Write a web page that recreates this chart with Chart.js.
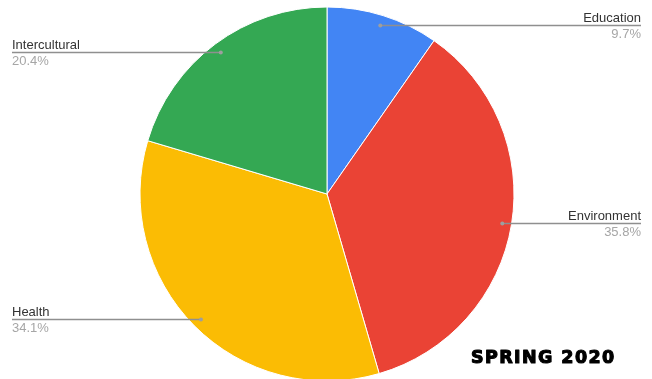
<!DOCTYPE html>
<html>
<head>
<meta charset="utf-8">
<script src="https://cdn.jsdelivr.net/npm/chart.js@4/dist/chart.umd.min.js"></script>
<style>
  html,body{margin:0;padding:0;background:#fff;overflow:hidden}
  #wrap{width:652px;height:379px}
</style>
</head>
<body>
<div id="wrap"><canvas id="pie" width="652" height="379"></canvas></div>
<script>
/* ── Data ── */
const categories=['Education','Environment','Health','Intercultural'];
const shares=[9.7,35.8,34.1,20.4];
const sliceColors=['#4285f4','#ea4335','#fbbc04','#34a853'];
const stamp='SPRING 2020';

/* ── Leader-line labels (Google-style) ── */
const leaderLabels={
  id:'leaderLabels',
  afterDatasetsDraw(chart){
    const ctx=chart.ctx;
    const meta=chart.getDatasetMeta(0);
    const leftX=12,rightX=641;
    meta.data.forEach((arc,i)=>{
      const p=arc.getProps(['x','y','startAngle','endAngle','outerRadius'],true);
      const mid=(p.startAngle+p.endAngle)/2;
      const r=p.outerRadius*0.95;
      const dx=p.x+Math.cos(mid)*r;
      const dy=Math.round(p.y+Math.sin(mid)*r)+0.5;
      const right=dx>p.x;
      ctx.save();
      ctx.strokeStyle='#8f8f8f';
      ctx.lineWidth=1.3;
      ctx.beginPath();
      ctx.moveTo(dx,dy);
      ctx.lineTo(right?rightX:leftX,dy);
      ctx.stroke();
      ctx.fillStyle='#9e9e9e';
      ctx.beginPath();
      ctx.arc(dx,dy,2,0,Math.PI*2);
      ctx.fill();
      ctx.font='13px "Liberation Sans", Arial, sans-serif';
      ctx.textAlign=right?'right':'left';
      ctx.textBaseline='alphabetic';
      ctx.fillStyle='#333333';
      ctx.fillText(categories[i],right?rightX:leftX,dy-4);
      ctx.fillStyle='#a6a6a6';
      ctx.fillText(shares[i].toFixed(1)+'%',right?rightX:leftX,dy+12);
      ctx.restore();
    });
    /* season stamp */
    ctx.save();
    ctx.font='bold 17.5px "DejaVu Sans", sans-serif';
    ctx.letterSpacing='1.4px';
    ctx.fillStyle='#000';
    ctx.strokeStyle='#000';
    ctx.lineWidth=1.1;
    ctx.lineJoin='round';
    ctx.textAlign='left';
    ctx.textBaseline='alphabetic';
    ctx.fillText(stamp,471,363);
    ctx.strokeText(stamp,471,363);
    ctx.restore();
  }
};

new Chart(document.getElementById('pie').getContext('2d'),{
  type:'pie',
  data:{
    labels:categories,
    datasets:[{
      data:shares,
      backgroundColor:sliceColors,
      borderColor:'#ffffff',
      borderWidth:1,
      clip:false
    }]
  },
  options:{
    responsive:false,
    animation:false,
    radius:187,
    layout:{padding:{top:9,left:2}},
    plugins:{legend:{display:false},tooltip:{enabled:false}}
  },
  plugins:[leaderLabels]
});
</script>
</body>
</html>
